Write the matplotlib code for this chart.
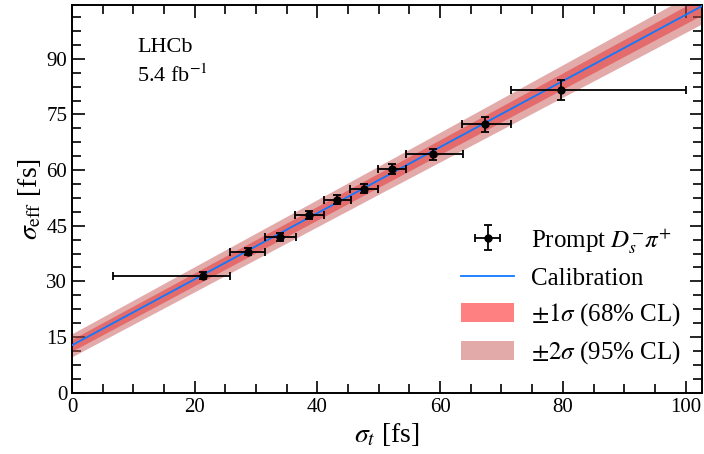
import matplotlib
matplotlib.use('Agg')
import matplotlib.pyplot as plt
from matplotlib.ticker import MultipleLocator
import numpy as np

plt.rcParams['font.family'] = ['Liberation Serif', 'DejaVu Serif']
plt.rcParams['mathtext.fontset'] = 'stix'

# prompt Ds- pi+ points: sigma_t, sigma_eff, asymmetric x errors, y errors
sigma_t = [21.4, 28.7, 33.9, 38.7, 43.2, 47.6, 52.1, 58.8, 67.3, 79.7]
sigma_eff = [31.5, 38.0, 42.0, 48.0, 52.0, 55.0, 60.3, 64.3, 72.4, 81.5]
xerr_lo = [14.8, 3.0, 2.5, 2.3, 2.2, 2.3, 2.3, 4.3, 3.7, 8.1]
xerr_hi = [4.3, 2.7, 2.6, 2.3, 2.2, 2.2, 2.4, 4.9, 4.3, 20.3]
yerr = [0.9, 1.0, 1.0, 1.1, 1.2, 1.3, 1.4, 1.5, 2.0, 2.7]

# calibration line and band half-widths read at a few sigma_t values
calib_x = [0.0, 50.0, 103.0]
calib_y = [12.8, 57.3, 104.5]
band1 = [1.6, 1.9, 2.4]
band2 = [3.1, 3.8, 4.8]

fig = plt.figure(figsize=(7.04, 4.54), dpi=100)
ax = fig.add_axes([0.1023, 0.135, 0.895, 0.854])

cx = np.array(calib_x)
cy = np.array(calib_y)
b1 = np.array(band1)
b2 = np.array(band2)

ax.fill_between(cx, cy - b1, cy + b1, color='#ff8080', lw=0,
                label=r'$\pm1\sigma$ (68% CL)', zorder=1)
ax.fill_between(cx, cy - b2, cy + b2, color=(0.79, 0.345, 0.345), alpha=0.51,
                lw=0, label=r'$\pm2\sigma$ (95% CL)', zorder=2)
ax.plot(cx, cy, color='#0f78ff', lw=1.3, label='Calibration', zorder=3)
ax.errorbar(sigma_t, sigma_eff, xerr=[xerr_lo, xerr_hi], yerr=yerr,
            fmt='o', color='black', ms=5, lw=1.3, capsize=3, capthick=1.3,
            label=r'Prompt $D_s^{-}\pi^{+}$', zorder=4)

ax.set_xlim(0, 102.7)
ax.set_ylim(0, 104.5)
ax.xaxis.set_major_locator(MultipleLocator(20))
ax.xaxis.set_minor_locator(MultipleLocator(5))
ax.yaxis.set_major_locator(MultipleLocator(15))
ax.yaxis.set_minor_locator(MultipleLocator(3.75))
ax.tick_params(which='both', direction='in', top=True, right=True, labelsize=15)
ax.tick_params(which='major', length=9, width=1.2)
ax.tick_params(which='minor', length=6.5, width=1.2)
for s in ax.spines.values():
    s.set_linewidth(1.4)

ax.set_xlabel(r'$\sigma_t$ [fs]', fontsize=20, labelpad=3)
ax.set_ylabel(r'$\sigma_{\rm eff}$ [fs]', fontsize=20, labelpad=2)

ax.text(0.103, 0.915, 'LHCb\n5.4 fb$^{-1}$', transform=ax.transAxes,
        fontsize=16, va='top', ha='left', linespacing=1.45)

handles, labels = ax.get_legend_handles_labels()
order = [3, 2, 0, 1]
ax.legend([handles[i] for i in order], [labels[i] for i in order],
          loc='lower right', bbox_to_anchor=(0.967, 0.068), frameon=False,
          fontsize=18, handlelength=2.1, handleheight=0.8,
          handletextpad=0.7, labelspacing=0.45, borderpad=0,
          borderaxespad=0)

fig.savefig('out.png', dpi=100)
